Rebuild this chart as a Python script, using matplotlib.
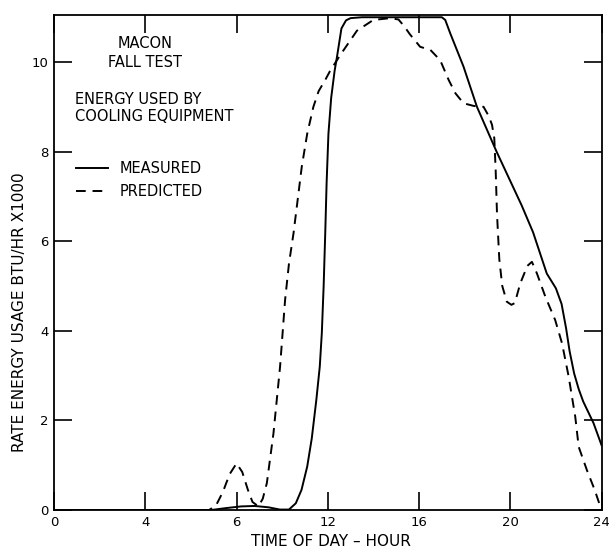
import matplotlib
matplotlib.use("Agg")
import matplotlib.pyplot as plt

# (hour of day, rate x1000 BTU/hr)
measured_x = [0, 6.9, 7.5, 8.2, 8.8, 9.4, 9.9, 10.3, 10.6, 10.85, 11.1, 11.3, 11.5,
              11.65, 11.74, 11.82, 11.89, 11.95, 12.03, 12.15, 12.3, 12.4, 12.6, 12.8,
              13.0, 13.5, 17.0, 17.15, 17.37, 17.95, 18.54, 19.4, 20.5, 21.0, 21.6,
              22.0, 22.25, 22.45, 22.6, 22.8, 23.0, 23.2, 23.65, 24.0]
measured_y = [0, 0, 0.04, 0.08, 0.09, 0.06, 0.01, 0.01, 0.15, 0.45, 0.97, 1.6, 2.46,
              3.2, 3.95, 5.0, 6.18, 7.3, 8.4, 9.2, 9.8, 10.1, 10.75, 10.93,
              10.98, 11.0, 11.0, 10.94, 10.64, 9.9, 9.0, 8.0, 6.8, 6.2, 5.28,
              4.95, 4.6, 4.05, 3.55, 3.05, 2.7, 2.42, 1.94, 1.45]

predicted_x = [0, 6.8, 7.1, 7.4, 7.7, 8.0, 8.25, 8.5, 8.7, 8.96, 9.15, 9.33, 9.62,
               9.91, 10.13, 10.3, 10.5, 10.86, 11.1, 11.37, 11.6, 11.89, 12.1, 12.54,
               13.28, 14.0, 14.74, 15.1, 15.35, 15.6, 16.05, 16.5, 16.93, 17.3, 17.6,
               17.95, 18.4, 18.83, 19.05, 19.2, 19.3, 19.36, 19.42, 19.52, 19.65,
               19.85, 20.05, 20.2, 20.44, 20.75, 20.95, 21.17, 21.54, 21.97, 22.27,
               22.56, 22.85, 23.0, 23.36, 23.7, 24.0]
predicted_y = [0, 0, 0.1, 0.4, 0.8, 1.04, 0.85, 0.45, 0.18, 0.08, 0.25, 0.6, 1.71,
               3.2, 4.69, 5.5, 6.18, 7.66, 8.4, 9.0, 9.35, 9.6, 9.8, 10.15,
               10.7, 10.94, 10.98, 10.95, 10.8, 10.62, 10.34, 10.27, 10.04, 9.6, 9.3,
               9.08, 9.02, 9.0, 8.8, 8.6, 8.3, 7.6, 6.6, 5.6, 5.0,
               4.65, 4.58, 4.62, 5.06, 5.45, 5.54, 5.28, 4.76, 4.24, 3.72,
               2.98, 2.08, 1.41, 0.89, 0.45, 0.0]

xticks = [0, 4, 8, 12, 16, 20, 24]
xtick_labels = ['0', '4', '6', '12', '16', '20', '24']   # as printed on the original
yticks = [0, 2, 4, 6, 8, 10]

fig = plt.figure(figsize=(6.09, 5.5), dpi=100)
ax = fig.add_axes([54/609, 1-510/550, 547.5/609, 495/550])

ax.plot(measured_x, measured_y, color='black', lw=1.4, solid_joinstyle='round')
ax.plot(predicted_x, predicted_y, color='black', lw=1.4, linestyle=(0, (5, 3.5)))

ax.set_xlim(0, 24)
ax.set_ylim(0, 11.05)
ax.set_xticks(xticks)
ax.set_xticklabels(xtick_labels)
ax.set_yticks(yticks)
ax.tick_params(direction='in', length=13, width=1.2, top=True, right=True,
               labelsize=9.5, pad=4)
for sp in ax.spines.values():
    sp.set_linewidth(1.3)

ax.set_xlabel('TIME OF DAY – HOUR', fontsize=11)
ax.xaxis.set_label_coords(0.505, -0.048)
ax.set_ylabel('RATE ENERGY USAGE BTU/HR X1000', fontsize=11)
ax.yaxis.set_label_coords(-0.050, 0.40)

# annotation block inside the axes (pixel positions converted to data)
def px(x, y):
    return (x - 54) / 22.8, (510 - y) / 44.8

fs = 10.5
ax.text(*px(145, 43), 'MACON', ha='center', va='center', fontsize=fs)
ax.text(*px(145, 62), 'FALL TEST', ha='center', va='center', fontsize=fs)
ax.text(*px(75, 99), 'ENERGY USED BY', ha='left', va='center', fontsize=fs)
ax.text(*px(75, 116), 'COOLING EQUIPMENT', ha='left', va='center', fontsize=fs)

x0, y0 = px(76, 168)
x1, _ = px(108, 168)
ax.plot([x0, x1], [y0, y0], color='black', lw=1.4)
ax.text(*px(120, 168), 'MEASURED', ha='left', va='center', fontsize=fs)
x0, y1 = px(76, 191)
ax.plot([x0, x1], [y1, y1], color='black', lw=1.4, linestyle=(0, (5, 3.5)))
ax.text(*px(120, 191), 'PREDICTED', ha='left', va='center', fontsize=fs)

fig.savefig('out.png', dpi=100)
